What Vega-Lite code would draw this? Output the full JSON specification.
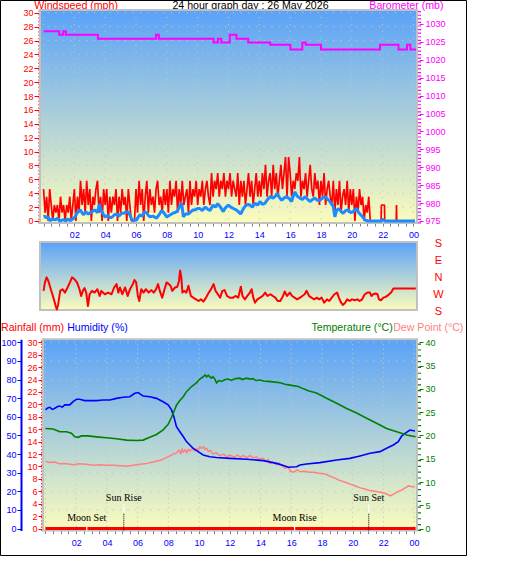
{
  "$schema": "https://vega.github.io/schema/vega-lite/v6.json",
  "width": 466,
  "height": 555,
  "autosize": {"type": "none"},
  "padding": {"left": 0, "top": 0, "right": 3, "bottom": 3},
  "background": "#ffffff",
  "config": {
    "view": {"stroke": "#000000", "strokeWidth": 1},
    "font": "Liberation Sans",
    "axis": {
      "grid": false,
      "labelFlush": false,
      "labelOverlap": false,
      "labelBound": false,
      "labelFont": "Liberation Sans",
      "labelFontSize": 9,
      "titleFont": "Liberation Sans",
      "titleFontSize": 10.6,
      "titleFontWeight": "normal",
      "titleAngle": 0,
      "titleBaseline": "alphabetic"
    }
  },
  "datasets": {
    "gridHours": [{"h":0},{"h":2},{"h":4},{"h":6},{"h":8},{"h":10},{"h":12},{"h":14},{"h":16},{"h":18},{"h":20},{"h":22},{"h":24}],
    "windGrid": [{"v":2},{"v":4},{"v":6},{"v":8},{"v":10},{"v":12},{"v":14},{"v":16},{"v":18},{"v":20},{"v":22},{"v":24},{"v":26},{"v":28},{"v":30}],
    "humGrid": [{"v":10},{"v":20},{"v":30},{"v":40},{"v":50},{"v":60},{"v":70},{"v":80},{"v":90},{"v":100}],
    "gust": [
      {"h":0.0,"mph":4.6},{"h":0.1,"mph":1.2},{"h":0.2,"mph":3.5},{"h":0.3,"mph":0},{"h":0.4,"mph":4.6},{"h":0.5,"mph":2.3},{"h":0.6,"mph":0},{"h":0.7,"mph":2.3},{"h":0.8,"mph":1.2},{"h":0.9,"mph":2.3},
      {"h":1.0,"mph":0},{"h":1.1,"mph":3.5},{"h":1.2,"mph":1.2},{"h":1.3,"mph":2.3},{"h":1.4,"mph":0},{"h":1.5,"mph":2.3},{"h":1.6,"mph":1.2},{"h":1.7,"mph":3.5},{"h":1.8,"mph":0},{"h":1.9,"mph":2.3},
      {"h":2.0,"mph":4.6},{"h":2.1,"mph":0},{"h":2.2,"mph":3.5},{"h":2.3,"mph":1.2},{"h":2.4,"mph":5.8},{"h":2.5,"mph":2.3},{"h":2.6,"mph":4.6},{"h":2.7,"mph":1.2},{"h":2.8,"mph":5.8},{"h":2.9,"mph":2.3},
      {"h":3.0,"mph":4.6},{"h":3.1,"mph":0},{"h":3.2,"mph":3.5},{"h":3.3,"mph":2.3},{"h":3.4,"mph":4.6},{"h":3.5,"mph":5.8},{"h":3.6,"mph":1.2},{"h":3.7,"mph":3.5},{"h":3.8,"mph":0},{"h":3.9,"mph":4.6},
      {"h":4.0,"mph":2.3},{"h":4.1,"mph":4.6},{"h":4.2,"mph":0},{"h":4.3,"mph":3.5},{"h":4.4,"mph":1.2},{"h":4.5,"mph":3.5},{"h":4.6,"mph":2.3},{"h":4.7,"mph":4.6},{"h":4.8,"mph":0},{"h":4.9,"mph":3.5},
      {"h":5.0,"mph":1.2},{"h":5.1,"mph":4.6},{"h":5.2,"mph":2.3},{"h":5.3,"mph":3.5},{"h":5.4,"mph":0},{"h":5.5,"mph":4.6},{"h":5.6,"mph":2.3},{"h":5.7,"mph":0},{"h":5.8,"mph":0},{"h":5.9,"mph":0},
      {"h":6.0,"mph":4.6},{"h":6.1,"mph":1.2},{"h":6.2,"mph":5.8},{"h":6.3,"mph":2.3},{"h":6.4,"mph":4.6},{"h":6.5,"mph":0},{"h":6.6,"mph":3.5},{"h":6.7,"mph":5.8},{"h":6.8,"mph":1.2},{"h":6.9,"mph":4.6},
      {"h":7.0,"mph":2.3},{"h":7.1,"mph":3.5},{"h":7.2,"mph":1.2},{"h":7.3,"mph":4.6},{"h":7.4,"mph":5.8},{"h":7.5,"mph":2.3},{"h":7.6,"mph":3.5},{"h":7.7,"mph":1.2},{"h":7.8,"mph":4.6},{"h":7.9,"mph":2.3},
      {"h":8.0,"mph":4.6},{"h":8.1,"mph":1.2},{"h":8.2,"mph":5.8},{"h":8.3,"mph":2.3},{"h":8.4,"mph":4.6},{"h":8.5,"mph":3.5},{"h":8.6,"mph":5.8},{"h":8.7,"mph":1.2},{"h":8.8,"mph":4.6},{"h":8.9,"mph":2.3},
      {"h":9.0,"mph":5.8},{"h":9.1,"mph":2.3},{"h":9.2,"mph":3.5},{"h":9.3,"mph":4.6},{"h":9.4,"mph":1.2},{"h":9.5,"mph":5.8},{"h":9.6,"mph":2.3},{"h":9.7,"mph":4.6},{"h":9.8,"mph":3.5},{"h":9.9,"mph":5.8},
      {"h":10.0,"mph":2.3},{"h":10.1,"mph":4.6},{"h":10.2,"mph":3.5},{"h":10.3,"mph":5.8},{"h":10.4,"mph":2.3},{"h":10.5,"mph":4.6},{"h":10.6,"mph":5.8},{"h":10.7,"mph":3.5},{"h":10.8,"mph":2.3},{"h":10.9,"mph":6.9},
      {"h":11.0,"mph":3.5},{"h":11.1,"mph":5.8},{"h":11.2,"mph":4.6},{"h":11.3,"mph":6.9},{"h":11.4,"mph":3.5},{"h":11.5,"mph":5.8},{"h":11.6,"mph":4.6},{"h":11.7,"mph":6.9},{"h":11.8,"mph":3.5},{"h":11.9,"mph":5.8},
      {"h":12.0,"mph":4.6},{"h":12.1,"mph":6.9},{"h":12.2,"mph":3.5},{"h":12.3,"mph":5.8},{"h":12.4,"mph":4.6},{"h":12.5,"mph":3.5},{"h":12.6,"mph":6.9},{"h":12.7,"mph":2.3},{"h":12.8,"mph":5.8},{"h":12.9,"mph":3.5},
      {"h":13.0,"mph":5.8},{"h":13.1,"mph":2.3},{"h":13.2,"mph":4.6},{"h":13.3,"mph":6.9},{"h":13.4,"mph":3.5},{"h":13.5,"mph":5.8},{"h":13.6,"mph":2.3},{"h":13.7,"mph":4.6},{"h":13.8,"mph":6.9},{"h":13.9,"mph":3.5},
      {"h":14.0,"mph":5.8},{"h":14.1,"mph":3.5},{"h":14.2,"mph":6.9},{"h":14.3,"mph":4.6},{"h":14.4,"mph":8.1},{"h":14.5,"mph":3.5},{"h":14.6,"mph":5.8},{"h":14.7,"mph":6.9},{"h":14.8,"mph":3.5},{"h":14.9,"mph":8.1},
      {"h":15.0,"mph":4.6},{"h":15.1,"mph":6.9},{"h":15.2,"mph":3.5},{"h":15.3,"mph":5.8},{"h":15.4,"mph":8.1},{"h":15.5,"mph":4.6},{"h":15.6,"mph":6.9},{"h":15.7,"mph":9.2},{"h":15.8,"mph":3.5},{"h":15.9,"mph":9.2},
      {"h":16.0,"mph":6.9},{"h":16.1,"mph":3.5},{"h":16.2,"mph":5.8},{"h":16.3,"mph":4.6},{"h":16.4,"mph":6.9},{"h":16.5,"mph":5.8},{"h":16.6,"mph":9.2},{"h":16.7,"mph":3.5},{"h":16.8,"mph":5.8},{"h":16.9,"mph":4.6},
      {"h":17.0,"mph":6.9},{"h":17.1,"mph":3.5},{"h":17.2,"mph":5.8},{"h":17.3,"mph":8.1},{"h":17.4,"mph":4.6},{"h":17.5,"mph":3.5},{"h":17.6,"mph":6.9},{"h":17.7,"mph":4.6},{"h":17.8,"mph":5.8},{"h":17.9,"mph":2.3},
      {"h":18.0,"mph":5.8},{"h":18.1,"mph":3.5},{"h":18.2,"mph":6.9},{"h":18.3,"mph":2.3},{"h":18.4,"mph":4.6},{"h":18.5,"mph":5.8},{"h":18.6,"mph":3.5},{"h":18.7,"mph":2.3},{"h":18.8,"mph":5.8},{"h":18.9,"mph":1.2},
      {"h":19.0,"mph":4.6},{"h":19.1,"mph":2.3},{"h":19.2,"mph":5.8},{"h":19.3,"mph":1.2},{"h":19.4,"mph":3.5},{"h":19.5,"mph":4.6},{"h":19.6,"mph":2.3},{"h":19.7,"mph":5.8},{"h":19.8,"mph":1.2},{"h":19.9,"mph":4.6},
      {"h":20.0,"mph":2.3},{"h":20.1,"mph":4.6},{"h":20.2,"mph":0},{"h":20.3,"mph":3.5},{"h":20.4,"mph":1.2},{"h":20.5,"mph":4.6},{"h":20.6,"mph":2.3},{"h":20.7,"mph":3.5},{"h":20.8,"mph":0},{"h":20.9,"mph":2.3},
      {"h":21.0,"mph":1.2},{"h":21.1,"mph":3.5},{"h":21.2,"mph":0},{"h":21.3,"mph":0},
      {"h":21.9,"mph":0},{"h":21.92,"mph":2.3},{"h":22.12,"mph":2.3},{"h":22.14,"mph":0},{"h":22.88,"mph":0},{"h":22.9,"mph":2.3},{"h":22.92,"mph":0},{"h":24.1,"mph":0}
    ],
    "avg": [
      {"h":0.0,"mph":0.6},{"h":0.1,"mph":0.7},{"h":0.2,"mph":0.4},{"h":0.3,"mph":0.6},{"h":0.42,"mph":0},{"h":0.55,"mph":0.3},{"h":0.75,"mph":0.15},{"h":0.9,"mph":0.4},{"h":1.05,"mph":0},{"h":1.29,"mph":0.2},
      {"h":1.45,"mph":0},{"h":1.6,"mph":0.3},{"h":1.72,"mph":0.05},{"h":1.9,"mph":0.3},{"h":2.05,"mph":0.6},{"h":2.15,"mph":1.1},{"h":2.37,"mph":1.6},{"h":2.5,"mph":1.2},{"h":2.58,"mph":0.9},{"h":2.75,"mph":1.3},
      {"h":2.9,"mph":1.0},{"h":3.02,"mph":1.2},{"h":3.2,"mph":1.4},{"h":3.34,"mph":1.6},{"h":3.5,"mph":1.2},{"h":3.62,"mph":2.45},{"h":3.7,"mph":1.8},{"h":3.77,"mph":1.35},{"h":3.9,"mph":0.9},{"h":3.99,"mph":0.6},
      {"h":4.15,"mph":0.8},{"h":4.3,"mph":0.5},{"h":4.42,"mph":0.5},{"h":4.6,"mph":0.9},{"h":4.75,"mph":1.0},{"h":4.9,"mph":0.7},{"h":5.05,"mph":1.1},{"h":5.18,"mph":1.1},{"h":5.35,"mph":1.3},{"h":5.5,"mph":1.3},
      {"h":5.62,"mph":0.8},{"h":5.72,"mph":0.2},{"h":5.85,"mph":0.1},{"h":6.04,"mph":0.15},{"h":6.15,"mph":0.6},{"h":6.26,"mph":0.9},{"h":6.4,"mph":0.7},{"h":6.55,"mph":1.3},{"h":6.69,"mph":1.2},{"h":6.8,"mph":0.8},
      {"h":6.91,"mph":0.6},{"h":7.1,"mph":0.7},{"h":7.34,"mph":0.4},{"h":7.5,"mph":0.9},{"h":7.66,"mph":1.5},{"h":7.8,"mph":1.2},{"h":7.99,"mph":0.6},{"h":8.15,"mph":0.8},{"h":8.31,"mph":1.0},{"h":8.45,"mph":1.2},
      {"h":8.53,"mph":1.2},{"h":8.7,"mph":1.5},{"h":8.85,"mph":2.2},{"h":8.96,"mph":2.6},{"h":9.07,"mph":0.6},{"h":9.2,"mph":1.0},{"h":9.39,"mph":1.0},{"h":9.55,"mph":1.3},{"h":9.7,"mph":1.6},{"h":9.83,"mph":1.6},
      {"h":10.0,"mph":1.8},{"h":10.15,"mph":1.8},{"h":10.3,"mph":1.5},{"h":10.5,"mph":2.0},{"h":10.65,"mph":1.7},{"h":10.8,"mph":1.5},{"h":11.0,"mph":2.3},{"h":11.15,"mph":2.0},{"h":11.3,"mph":2.5},{"h":11.45,"mph":2.1},
      {"h":11.66,"mph":1.35},{"h":11.8,"mph":1.9},{"h":11.99,"mph":2.3},{"h":12.15,"mph":2.0},{"h":12.31,"mph":1.8},{"h":12.5,"mph":1.6},{"h":12.64,"mph":1.35},{"h":12.79,"mph":1.0},{"h":12.95,"mph":1.7},{"h":13.07,"mph":2.1},
      {"h":13.25,"mph":2.4},{"h":13.39,"mph":2.3},{"h":13.55,"mph":2.0},{"h":13.72,"mph":2.55},{"h":13.9,"mph":2.3},{"h":14.04,"mph":2.8},{"h":14.2,"mph":2.4},{"h":14.36,"mph":2.55},{"h":14.5,"mph":3.0},{"h":14.69,"mph":3.5},
      {"h":14.9,"mph":3.3},{"h":15.05,"mph":3.6},{"h":15.16,"mph":4.0},{"h":15.3,"mph":3.4},{"h":15.45,"mph":3.0},{"h":15.6,"mph":3.3},{"h":15.77,"mph":3.5},{"h":15.95,"mph":3.2},{"h":16.09,"mph":2.8},{"h":16.2,"mph":3.6},
      {"h":16.31,"mph":4.2},{"h":16.45,"mph":3.6},{"h":16.63,"mph":3.3},{"h":16.8,"mph":3.1},{"h":16.96,"mph":3.5},{"h":17.1,"mph":3.2},{"h":17.28,"mph":2.8},{"h":17.45,"mph":3.1},{"h":17.61,"mph":3.3},{"h":17.75,"mph":3.0},
      {"h":17.93,"mph":3.0},{"h":18.1,"mph":3.3},{"h":18.26,"mph":3.5},{"h":18.45,"mph":3.1},{"h":18.58,"mph":2.8},{"h":18.7,"mph":2.4},{"h":18.8,"mph":2.1},{"h":18.9,"mph":0.6},{"h":19.0,"mph":1.4},{"h":19.12,"mph":1.8},
      {"h":19.3,"mph":1.4},{"h":19.44,"mph":1.1},{"h":19.6,"mph":1.5},{"h":19.77,"mph":1.6},{"h":19.93,"mph":1.2},{"h":20.09,"mph":1.35},{"h":20.2,"mph":1.6},{"h":20.31,"mph":1.8},{"h":20.42,"mph":1.3},{"h":20.53,"mph":1.0},
      {"h":20.7,"mph":0.6},{"h":20.85,"mph":0.15},{"h":21.07,"mph":0},{"h":21.9,"mph":0},{"h":22.04,"mph":0.25},{"h":22.15,"mph":0},{"h":24.1,"mph":0}
    ],
    "baro": [
      {"h":0,"mb":1028.0},{"h":1.01,"mb":1027.0},{"h":1.28,"mb":1028.0},{"h":1.45,"mb":1027.0},{"h":3.53,"mb":1025.9},{"h":7.3,"mb":1027.0},{"h":7.48,"mb":1025.9},{"h":11.03,"mb":1024.8},{"h":11.31,"mb":1025.9},{"h":11.53,"mb":1024.8},
      {"h":12.08,"mb":1027.0},{"h":12.52,"mb":1025.9},{"h":13.28,"mb":1024.8},{"h":14.71,"mb":1024.2},{"h":16.02,"mb":1022.9},{"h":16.79,"mb":1024.8},{"h":17.01,"mb":1024.2},{"h":18.0,"mb":1022.9},{"h":21.83,"mb":1024.2},{"h":23.03,"mb":1022.9},
      {"h":23.58,"mb":1024.2},{"h":23.8,"mb":1022.9},{"h":24.17,"mb":1022.9}
    ],
    "dir": [
      {"h":0.0,"deg":-73},{"h":0.09,"deg":-28},{"h":0.2,"deg":-1},{"h":0.31,"deg":-19},{"h":0.47,"deg":-64},{"h":0.64,"deg":-109},{"h":0.79,"deg":-154},{"h":0.86,"deg":-172},{"h":0.95,"deg":-145},{"h":1.08,"deg":-73},
      {"h":1.23,"deg":-64},{"h":1.39,"deg":-82},{"h":1.56,"deg":-55},{"h":1.71,"deg":-28},{"h":1.85,"deg":-1},{"h":2.0,"deg":-10},{"h":2.17,"deg":-28},{"h":2.33,"deg":-64},{"h":2.44,"deg":-100},{"h":2.55,"deg":-73},
      {"h":2.66,"deg":-58},{"h":2.77,"deg":-82},{"h":2.88,"deg":-154},{"h":2.99,"deg":-91},{"h":3.14,"deg":-73},{"h":3.31,"deg":-82},{"h":3.49,"deg":-64},{"h":3.64,"deg":-100},{"h":3.75,"deg":-73},{"h":3.97,"deg":-91},
      {"h":4.19,"deg":-82},{"h":4.41,"deg":-91},{"h":4.58,"deg":-55},{"h":4.74,"deg":-37},{"h":4.85,"deg":-82},{"h":4.96,"deg":-55},{"h":5.11,"deg":-91},{"h":5.29,"deg":-55},{"h":5.46,"deg":-100},{"h":5.61,"deg":-64},
      {"h":5.79,"deg":-37},{"h":5.9,"deg":-15},{"h":6.01,"deg":-28},{"h":6.12,"deg":-100},{"h":6.21,"deg":-127},{"h":6.34,"deg":-64},{"h":6.49,"deg":-82},{"h":6.64,"deg":-64},{"h":6.82,"deg":-82},{"h":6.99,"deg":-69},
      {"h":7.15,"deg":-82},{"h":7.3,"deg":-64},{"h":7.43,"deg":-37},{"h":7.54,"deg":-73},{"h":7.7,"deg":-109},{"h":7.85,"deg":-64},{"h":7.98,"deg":-28},{"h":8.13,"deg":-37},{"h":8.24,"deg":-46},{"h":8.35,"deg":-73},
      {"h":8.53,"deg":-55},{"h":8.68,"deg":-51},{"h":8.79,"deg":-19},{"h":8.86,"deg":35},{"h":8.94,"deg":-1},{"h":9.01,"deg":-82},{"h":9.12,"deg":-73},{"h":9.27,"deg":-82},{"h":9.4,"deg":-46},{"h":9.56,"deg":-100},
      {"h":9.71,"deg":-109},{"h":9.89,"deg":-118},{"h":10.06,"deg":-127},{"h":10.21,"deg":-118},{"h":10.37,"deg":-130},{"h":10.54,"deg":-109},{"h":10.72,"deg":-82},{"h":10.87,"deg":-64},{"h":11.03,"deg":-37},{"h":11.16,"deg":-73},
      {"h":11.31,"deg":-91},{"h":11.46,"deg":-109},{"h":11.6,"deg":-73},{"h":11.75,"deg":-69},{"h":11.9,"deg":-100},{"h":12.08,"deg":-109},{"h":12.3,"deg":-109},{"h":12.47,"deg":-100},{"h":12.63,"deg":-109},{"h":12.8,"deg":-51},
      {"h":12.91,"deg":-100},{"h":13.06,"deg":-118},{"h":13.22,"deg":-100},{"h":13.39,"deg":-82},{"h":13.5,"deg":-64},{"h":13.61,"deg":-109},{"h":13.72,"deg":-136},{"h":13.87,"deg":-118},{"h":14.05,"deg":-109},{"h":14.22,"deg":-100},
      {"h":14.38,"deg":-82},{"h":14.53,"deg":-100},{"h":14.71,"deg":-91},{"h":14.88,"deg":-100},{"h":15.04,"deg":-109},{"h":15.19,"deg":-127},{"h":15.36,"deg":-127},{"h":15.54,"deg":-100},{"h":15.65,"deg":-76},{"h":15.8,"deg":-100},
      {"h":15.98,"deg":-82},{"h":16.13,"deg":-100},{"h":16.29,"deg":-109},{"h":16.46,"deg":-118},{"h":16.64,"deg":-109},{"h":16.79,"deg":-100},{"h":16.94,"deg":-91},{"h":17.07,"deg":-73},{"h":17.23,"deg":-100},{"h":17.38,"deg":-109},
      {"h":17.56,"deg":-118},{"h":17.73,"deg":-109},{"h":17.88,"deg":-118},{"h":18.04,"deg":-109},{"h":18.21,"deg":-136},{"h":18.39,"deg":-118},{"h":18.54,"deg":-127},{"h":18.7,"deg":-109},{"h":18.87,"deg":-91},{"h":19.05,"deg":-82},
      {"h":19.16,"deg":-109},{"h":19.31,"deg":-136},{"h":19.42,"deg":-148},{"h":19.57,"deg":-136},{"h":19.7,"deg":-118},{"h":19.86,"deg":-127},{"h":20.01,"deg":-118},{"h":20.19,"deg":-123},{"h":20.36,"deg":-118},{"h":20.51,"deg":-127},
      {"h":20.67,"deg":-118},{"h":20.84,"deg":-91},{"h":21.02,"deg":-82},{"h":21.17,"deg":-82},{"h":21.28,"deg":-100},{"h":21.39,"deg":-91},{"h":21.54,"deg":-87},{"h":21.67,"deg":-91},{"h":21.76,"deg":-118},{"h":21.89,"deg":-123},
      {"h":22.05,"deg":-109},{"h":22.2,"deg":-105},{"h":22.38,"deg":-94},{"h":22.55,"deg":-82},{"h":22.7,"deg":-60},{"h":22.92,"deg":-60},{"h":24.15,"deg":-60}
    ],
    "rain": [{"h":0,"mm":0},{"h":24.1,"mm":0}],
    "humidity": [
      {"h":0.0,"pct":63.7},{"h":0.15,"pct":64.8},{"h":0.28,"pct":65.1},{"h":0.45,"pct":64.0},{"h":0.61,"pct":64.6},{"h":0.8,"pct":65.5},{"h":0.93,"pct":65.8},{"h":1.1,"pct":65.2},{"h":1.26,"pct":66.4},{"h":1.58,"pct":66.4},
      {"h":1.8,"pct":68.1},{"h":2.02,"pct":69.4},{"h":2.23,"pct":69.4},{"h":2.56,"pct":68.7},{"h":2.89,"pct":68.7},{"h":3.32,"pct":68.7},{"h":3.75,"pct":69.0},{"h":4.19,"pct":69.0},{"h":4.62,"pct":69.9},{"h":5.06,"pct":70.5},
      {"h":5.49,"pct":70.8},{"h":5.82,"pct":72.6},{"h":6.04,"pct":73.0},{"h":6.2,"pct":72.0},{"h":6.36,"pct":71.2},{"h":6.79,"pct":70.8},{"h":7.23,"pct":69.9},{"h":7.66,"pct":68.1},{"h":7.99,"pct":66.4},{"h":8.21,"pct":63.7},
      {"h":8.36,"pct":60.1},{"h":8.53,"pct":54.7},{"h":8.75,"pct":52.0},{"h":8.97,"pct":49.4},{"h":9.18,"pct":46.7},{"h":9.4,"pct":44.9},{"h":9.62,"pct":43.1},{"h":9.94,"pct":41.3},{"h":10.27,"pct":39.5},{"h":10.7,"pct":38.6},
      {"h":11.14,"pct":38.2},{"h":12.01,"pct":37.7},{"h":13.09,"pct":37.2},{"h":14.18,"pct":36.5},{"h":15.05,"pct":35.0},{"h":15.59,"pct":33.6},{"h":15.81,"pct":32.9},{"h":16.35,"pct":33.2},{"h":16.57,"pct":34.1},{"h":17.0,"pct":34.7},
      {"h":17.87,"pct":35.4},{"h":18.96,"pct":36.8},{"h":19.82,"pct":37.7},{"h":20.48,"pct":39.0},{"h":21.13,"pct":40.4},{"h":21.78,"pct":41.3},{"h":22.21,"pct":43.1},{"h":22.65,"pct":44.9},{"h":22.97,"pct":46.7},{"h":23.19,"pct":49.7},
      {"h":23.41,"pct":51.1},{"h":23.73,"pct":52.9},{"h":24.06,"pct":52.4}
    ],
    "temperature": [
      {"h":0.0,"c":21.5},{"h":0.5,"c":21.4},{"h":0.93,"c":20.8},{"h":1.37,"c":20.8},{"h":1.69,"c":20.5},{"h":1.91,"c":19.7},{"h":2.13,"c":19.6},{"h":2.34,"c":19.9},{"h":2.78,"c":19.9},{"h":3.32,"c":19.7},
      {"h":3.97,"c":19.5},{"h":4.62,"c":19.3},{"h":5.28,"c":19.0},{"h":5.93,"c":18.9},{"h":6.36,"c":19.0},{"h":6.79,"c":19.6},{"h":7.23,"c":20.2},{"h":7.66,"c":21.2},{"h":7.99,"c":22.4},{"h":8.21,"c":23.9},
      {"h":8.36,"c":25.1},{"h":8.53,"c":26.5},{"h":8.75,"c":27.5},{"h":8.97,"c":28.3},{"h":9.18,"c":29.4},{"h":9.51,"c":30.5},{"h":9.83,"c":31.3},{"h":10.05,"c":32.1},{"h":10.27,"c":32.6},{"h":10.4,"c":33.0},
      {"h":10.49,"c":32.6},{"h":10.6,"c":32.9},{"h":10.81,"c":32.3},{"h":10.9,"c":32.6},{"h":11.03,"c":32.1},{"h":11.14,"c":31.3},{"h":11.3,"c":31.8},{"h":11.46,"c":31.6},{"h":11.7,"c":32.0},{"h":11.9,"c":32.1},
      {"h":12.1,"c":31.8},{"h":12.22,"c":32.0},{"h":12.4,"c":32.2},{"h":12.66,"c":32.3},{"h":12.8,"c":32.0},{"h":13.09,"c":32.3},{"h":13.3,"c":32.1},{"h":13.5,"c":32.2},{"h":13.7,"c":31.8},{"h":13.96,"c":31.9},
      {"h":14.2,"c":31.7},{"h":14.5,"c":31.6},{"h":14.8,"c":31.5},{"h":15.27,"c":31.3},{"h":15.6,"c":31.0},{"h":15.92,"c":30.8},{"h":16.46,"c":30.5},{"h":16.8,"c":30.0},{"h":17.11,"c":29.6},{"h":17.65,"c":29.1},
      {"h":18.3,"c":28.0},{"h":18.96,"c":26.9},{"h":19.61,"c":25.8},{"h":20.26,"c":24.8},{"h":20.91,"c":23.7},{"h":21.56,"c":22.6},{"h":22.21,"c":21.5},{"h":22.87,"c":20.8},{"h":23.52,"c":20.1},{"h":24.1,"c":19.7}
    ],
    "dewpoint": [
      {"h":0.0,"c":14.4},{"h":0.3,"c":14.2},{"h":0.6,"c":14.3},{"h":0.93,"c":13.9},{"h":1.3,"c":14.0},{"h":1.8,"c":13.7},{"h":2.2,"c":13.9},{"h":2.67,"c":13.8},{"h":3.1,"c":13.6},{"h":3.54,"c":13.7},
      {"h":4.0,"c":13.6},{"h":4.41,"c":13.6},{"h":4.9,"c":13.5},{"h":5.28,"c":13.4},{"h":5.7,"c":13.6},{"h":6.14,"c":13.8},{"h":6.6,"c":14.0},{"h":7.01,"c":14.3},{"h":7.4,"c":14.6},{"h":7.66,"c":14.9},
      {"h":8.1,"c":15.6},{"h":8.3,"c":16.0},{"h":8.53,"c":16.2},{"h":8.7,"c":16.9},{"h":8.8,"c":16.0},{"h":8.9,"c":17.2},{"h":8.97,"c":16.3},{"h":9.1,"c":17.0},{"h":9.2,"c":16.2},{"h":9.3,"c":17.1},
      {"h":9.4,"c":16.6},{"h":9.6,"c":17.3},{"h":9.7,"c":16.6},{"h":9.83,"c":17.2},{"h":9.95,"c":16.7},{"h":10.05,"c":17.6},{"h":10.16,"c":17.2},{"h":10.3,"c":17.6},{"h":10.4,"c":16.9},{"h":10.49,"c":17.3},
      {"h":10.6,"c":16.5},{"h":10.75,"c":16.8},{"h":10.92,"c":16.0},{"h":11.1,"c":16.3},{"h":11.36,"c":15.6},{"h":11.6,"c":16.0},{"h":11.8,"c":15.4},{"h":12.01,"c":15.8},{"h":12.3,"c":15.3},{"h":12.5,"c":15.8},
      {"h":12.7,"c":15.3},{"h":12.88,"c":15.7},{"h":13.1,"c":15.2},{"h":13.31,"c":15.7},{"h":13.5,"c":15.2},{"h":13.74,"c":15.4},{"h":13.9,"c":14.9},{"h":14.18,"c":15.1},{"h":14.35,"c":14.4},{"h":14.5,"c":14.9},
      {"h":14.61,"c":13.9},{"h":14.8,"c":14.3},{"h":15.05,"c":13.7},{"h":15.2,"c":14.1},{"h":15.48,"c":13.3},{"h":15.62,"c":12.9},{"h":15.8,"c":13.3},{"h":15.95,"c":12.3},{"h":16.17,"c":12.1},{"h":16.4,"c":12.6},
      {"h":16.6,"c":12.2},{"h":16.83,"c":12.3},{"h":17.2,"c":12.1},{"h":17.49,"c":12.1},{"h":17.8,"c":11.9},{"h":18.15,"c":11.8},{"h":18.5,"c":11.3},{"h":18.81,"c":10.9},{"h":19.1,"c":10.4},{"h":19.47,"c":10.0},
      {"h":19.8,"c":9.6},{"h":20.13,"c":9.2},{"h":20.45,"c":8.8},{"h":20.79,"c":8.5},{"h":21.1,"c":8.2},{"h":21.45,"c":8.0},{"h":21.8,"c":7.8},{"h":22.11,"c":7.6},{"h":22.3,"c":7.3},{"h":22.44,"c":7.0},
      {"h":22.6,"c":7.3},{"h":22.77,"c":7.6},{"h":23.0,"c":8.0},{"h":23.21,"c":8.3},{"h":23.45,"c":8.8},{"h":23.65,"c":9.2},{"h":23.85,"c":9.0},{"h":24.05,"c":9.0}
    ],
    "events": [
      {"event":"Moon Set","h":2.69,"kind":"moon"},
      {"event":"Sun Rise","h":5.1,"kind":"sun"},
      {"event":"Moon Rise","h":16.22,"kind":"moon"},
      {"event":"Sun Set","h":21.05,"kind":"sun"}
    ]
  },
  "resolve": {"scale": {"x": "independent", "y": "independent"}},
  "layer": [
    {
      "data": {"values": [{}]},
      "mark": {"type": "rect", "stroke": "#c0c0c0", "strokeWidth": 2,
        "fill": {"gradient": "linear", "x1": 0, "y1": 0, "x2": 0, "y2": 1, "stops": [{"offset": 0, "color": "#5aa2f8"}, {"offset": 1, "color": "#fcfcbc"}]}},
      "encoding": {
        "x": {"datum": -0.23, "type": "quantitative",
          "scale": {"domain": [-0.23, 24.23], "range": [40, 417], "nice": false, "zero": false},
          "axis": {"orient": "bottom", "offset": -332, "tickCount": 48, "domain": false, "tickSize": 3, "tickColor": "#808080",
            "labelExpr": "datum.value % 2 == 0 && datum.value > 0 ? (datum.value % 24 < 10 ? '0' : '') + (datum.value % 24) : ''",
            "labelColor": "#0000ff", "labelPadding": 4,
            "title": "24 hour graph day : 26 May 2026", "titleX": 250, "titleY": -214.5, "titleAlign": "center", "titleColor": "#000000"}},
        "x2": {"datum": 24.23},
        "y": {"datum": 30.4, "type": "quantitative",
          "scale": {"domain": [-0.29, 30.4], "range": [223, 10], "nice": false, "zero": false},
          "axis": {"orient": "left", "offset": -39, "values": [0,2,4,6,8,10,12,14,16,18,20,22,24,26,28,30],
            "domainColor": "#ff0000", "domainWidth": 2, "domainDash": [1.7, 1.77], "tickColor": "#ff0000", "tickSize": 5,
            "labelColor": "#ff0000", "labelPadding": 1,
            "title": "Windspeed (mph)", "titleX": -5.2, "titleY": 8.5, "titleAlign": "left", "titleColor": "#ff0000"}},
        "y2": {"datum": -0.29}
      }
    },
    {
      "data": {"name": "gridHours"},
      "mark": {"type": "rule", "color": "#c4c4c4", "strokeWidth": 1, "strokeDash": [1.2, 5.74]},
      "encoding": {
        "x": {"field": "h", "type": "quantitative", "scale": {"domain": [-0.23, 24.23], "range": [40, 417], "nice": false, "zero": false}, "axis": null},
        "y": {"datum": 30.4, "type": "quantitative", "scale": {"domain": [-0.29, 30.4], "range": [223, 10], "nice": false, "zero": false}, "axis": null},
        "y2": {"datum": -0.29}
      }
    },
    {
      "data": {"name": "windGrid"},
      "mark": {"type": "rule", "color": "#c4c4c4", "strokeWidth": 1, "strokeDash": [1.2, 6.51]},
      "encoding": {
        "x": {"datum": -0.23, "type": "quantitative", "scale": {"domain": [-0.23, 24.23], "range": [40, 417], "nice": false, "zero": false}, "axis": null},
        "x2": {"datum": 24.23},
        "y": {"field": "v", "type": "quantitative", "scale": {"domain": [-0.29, 30.4], "range": [223, 10], "nice": false, "zero": false}, "axis": null}
      }
    },
    {
      "data": {"name": "gust"},
      "mark": {"type": "line", "color": "#ff0000", "strokeWidth": 1.7, "strokeJoin": "bevel"},
      "encoding": {
        "x": {"field": "h", "type": "quantitative", "scale": {"domain": [-0.23, 24.23], "range": [40, 417], "nice": false, "zero": false}, "axis": null},
        "y": {"field": "mph", "type": "quantitative", "scale": {"domain": [-0.29, 30.4], "range": [223, 10], "nice": false, "zero": false}, "axis": null}
      }
    },
    {
      "data": {"name": "avg"},
      "mark": {"type": "line", "color": "#1a8cff", "strokeWidth": 3, "strokeJoin": "bevel"},
      "encoding": {
        "x": {"field": "h", "type": "quantitative", "scale": {"domain": [-0.23, 24.23], "range": [40, 417], "nice": false, "zero": false}, "axis": null},
        "y": {"field": "mph", "type": "quantitative", "scale": {"domain": [-0.29, 30.4], "range": [223, 10], "nice": false, "zero": false}, "axis": null}
      }
    },
    {
      "data": {"name": "baro"},
      "mark": {"type": "line", "color": "#ff00ff", "strokeWidth": 2, "interpolate": "step-after"},
      "encoding": {
        "x": {"field": "h", "type": "quantitative", "scale": {"domain": [-0.23, 24.23], "range": [40, 417], "nice": false, "zero": false}, "axis": null},
        "y": {"field": "mb", "type": "quantitative",
          "scale": {"domain": [974.44, 1033.9], "range": [223, 10], "nice": false, "zero": false},
          "axis": {"orient": "right", "offset": -47, "values": [975,980,985,990,995,1000,1005,1010,1015,1020,1025,1030], "format": "d",
            "domainColor": "#ff00ff", "domainWidth": 3, "domainDash": [1.2, 2.38], "tickColor": "#ff00ff", "tickSize": 4,
            "labelColor": "#ff00ff", "labelPadding": 2,
            "title": "Barometer (mb)", "titleX": 24, "titleY": 8.5, "titleAlign": "right", "titleColor": "#ff00ff"}}
      }
    },
    {
      "data": {"values": [{}]},
      "mark": {"type": "rect", "stroke": "#c0c0c0", "strokeWidth": 2,
        "fill": {"gradient": "linear", "x1": 0, "y1": 0, "x2": 0, "y2": 1, "stops": [{"offset": 0, "color": "#5aa2f8"}, {"offset": 1, "color": "#fcfcbc"}]}},
      "encoding": {
        "x": {"datum": -0.23, "type": "quantitative", "scale": {"domain": [-0.23, 24.23], "range": [40, 417], "nice": false, "zero": false}, "axis": null},
        "x2": {"datum": 24.23},
        "y": {"datum": 186.9, "type": "quantitative",
          "scale": {"domain": [-180, 186.9], "range": [311, 242], "nice": false, "zero": false},
          "axis": {"orient": "right", "offset": -49, "values": [180, 90, 0, -90, -180], "domain": false, "ticks": false, "tickSize": 0,
            "labelPadding": 21, "labelAlign": "center", "labelBaseline": "middle", "labelColor": "#ff0000", "labelFontSize": 11,
            "labelExpr": "datum.value == 0 ? 'N' : datum.value == 90 ? 'E' : datum.value == -90 ? 'W' : 'S'", "title": null}},
        "y2": {"datum": -174.7}
      }
    },
    {
      "data": {"name": "dir"},
      "mark": {"type": "line", "color": "#ff0000", "strokeWidth": 2, "strokeJoin": "round"},
      "encoding": {
        "x": {"field": "h", "type": "quantitative", "scale": {"domain": [-0.23, 24.23], "range": [40, 417], "nice": false, "zero": false}, "axis": null},
        "y": {"field": "deg", "type": "quantitative", "scale": {"domain": [-180, 186.9], "range": [311, 242], "nice": false, "zero": false}, "axis": null}
      }
    },
    {
      "data": {"values": [{}]},
      "mark": {"type": "rect", "stroke": "#c0c0c0", "strokeWidth": 2,
        "fill": {"gradient": "linear", "x1": 0, "y1": 0, "x2": 0, "y2": 1, "stops": [{"offset": 0, "color": "#5aa2f8"}, {"offset": 1, "color": "#fcfcbc"}]}},
      "encoding": {
        "x": {"datum": -0.16, "type": "quantitative",
          "scale": {"domain": [-0.16, 24.19], "range": [43, 417], "nice": false, "zero": false},
          "axis": {"orient": "bottom", "offset": -24.5, "tickCount": 48, "domain": false, "tickSize": 3, "tickColor": "#808080",
            "labelExpr": "datum.value % 2 == 0 && datum.value > 0 ? (datum.value % 24 < 10 ? '0' : '') + (datum.value % 24) : ''",
            "labelColor": "#0000ff", "labelPadding": 5,
            "title": "Dew Point (°C)", "titleX": 392.7, "titleY": -200, "titleAlign": "left", "titleColor": "#ff8080"}},
        "x2": {"datum": 24.19},
        "y": {"datum": 30.48, "type": "quantitative",
          "scale": {"domain": [-0.306, 30.48], "range": [530.5, 339.3], "nice": false, "zero": false},
          "axis": {"orient": "left", "offset": -41.5, "values": [0,2,4,6,8,10,12,14,16,18,20,22,24,26,28,30],
            "domainColor": "#ff0000", "domainWidth": 1.5, "domainDash": [1.5, 1.6], "tickColor": "#ff0000", "tickSize": 3.5,
            "labelColor": "#ff0000", "labelPadding": 1,
            "title": "Rainfall (mm)", "titleX": -41, "titleY": 330.5, "titleAlign": "left", "titleColor": "#ff0000"}},
        "y2": {"datum": -0.306}
      }
    },
    {
      "data": {"name": "gridHours"},
      "mark": {"type": "rule", "color": "#c4c4c4", "strokeWidth": 1, "strokeDash": [1.2, 3.46]},
      "encoding": {
        "x": {"field": "h", "type": "quantitative", "scale": {"domain": [-0.16, 24.19], "range": [43, 417], "nice": false, "zero": false}, "axis": null},
        "y": {"datum": 101.6, "type": "quantitative", "scale": {"domain": [-1.02, 101.6], "range": [530.5, 339.3], "nice": false, "zero": false}, "axis": null},
        "y2": {"datum": -1.02}
      }
    },
    {
      "data": {"name": "humGrid"},
      "mark": {"type": "rule", "color": "#c4c4c4", "strokeWidth": 1, "strokeDash": [1.2, 6.48]},
      "encoding": {
        "x": {"datum": -0.16, "type": "quantitative", "scale": {"domain": [-0.16, 24.19], "range": [43, 417], "nice": false, "zero": false}, "axis": null},
        "x2": {"datum": 24.19},
        "y": {"field": "v", "type": "quantitative", "scale": {"domain": [-1.02, 101.6], "range": [530.5, 339.3], "nice": false, "zero": false}, "axis": null}
      }
    },
    {
      "data": {"name": "rain"},
      "mark": {"type": "line", "color": "#ff0000", "strokeWidth": 3},
      "encoding": {
        "x": {"field": "h", "type": "quantitative", "scale": {"domain": [-0.16, 24.19], "range": [43, 417], "nice": false, "zero": false}, "axis": null},
        "y": {"field": "mm", "type": "quantitative", "scale": {"domain": [-0.306, 30.48], "range": [530.5, 339.3], "nice": false, "zero": false}, "axis": null}
      }
    },
    {
      "data": {"name": "dewpoint"},
      "mark": {"type": "line", "color": "#ff8080", "strokeWidth": 1.5, "strokeJoin": "bevel"},
      "encoding": {
        "x": {"field": "h", "type": "quantitative", "scale": {"domain": [-0.16, 24.19], "range": [43, 417], "nice": false, "zero": false}, "axis": null},
        "y": {"field": "c", "type": "quantitative", "scale": {"domain": [-0.408, 40.64], "range": [530.5, 339.3], "nice": false, "zero": false}, "axis": null}
      }
    },
    {
      "data": {"name": "humidity"},
      "mark": {"type": "line", "color": "#0000ff", "strokeWidth": 1.6},
      "encoding": {
        "x": {"field": "h", "type": "quantitative", "scale": {"domain": [-0.16, 24.19], "range": [43, 417], "nice": false, "zero": false}, "axis": null},
        "y": {"field": "pct", "type": "quantitative",
          "scale": {"domain": [-1.02, 101.6], "range": [530.5, 339.3], "nice": false, "zero": false},
          "axis": {"orient": "left", "offset": -21, "values": [0,10,20,30,40,50,60,70,80,90,100],
            "domainColor": "#0000ff", "domainWidth": 2, "tickColor": "#0000ff", "tickSize": 4,
            "labelColor": "#0000ff", "labelPadding": 1,
            "title": "Humidity (%)", "titleX": 45.7, "titleY": 330.5, "titleAlign": "left", "titleColor": "#0000ff"}}
      }
    },
    {
      "data": {"name": "temperature"},
      "mark": {"type": "line", "color": "#008000", "strokeWidth": 1.6},
      "encoding": {
        "x": {"field": "h", "type": "quantitative", "scale": {"domain": [-0.16, 24.19], "range": [43, 417], "nice": false, "zero": false}, "axis": null},
        "y": {"field": "c", "type": "quantitative",
          "scale": {"domain": [-0.408, 40.64], "range": [530.5, 339.3], "nice": false, "zero": false},
          "axis": {"orient": "right", "offset": -47, "values": [0,5,10,15,20,25,30,35,40],
            "domainColor": "#008000", "domainWidth": 3, "domainDash": [1.2, 4.62], "tickColor": "#008000", "tickSize": 4,
            "labelColor": "#008000", "labelPadding": 2,
            "title": "Temperature (°C)", "titleX": -26.7, "titleY": 330.5, "titleAlign": "right", "titleColor": "#008000"}}
      }
    },
    {
      "data": {"name": "events"},
      "transform": [{"filter": "datum.kind == 'sun'"}],
      "mark": {"type": "rule", "color": "#ffffff", "strokeWidth": 1},
      "encoding": {
        "x": {"field": "h", "type": "quantitative", "scale": {"domain": [-0.16, 24.19], "range": [43, 417], "nice": false, "zero": false}, "axis": null},
        "y": {"datum": 3.93, "type": "quantitative", "scale": {"domain": [-0.306, 30.48], "range": [530.5, 339.3], "nice": false, "zero": false}, "axis": null},
        "y2": {"datum": 2.55}
      }
    },
    {
      "data": {"name": "events"},
      "transform": [{"filter": "datum.kind == 'sun'"}],
      "mark": {"type": "rule", "color": "#000000", "strokeWidth": 1, "strokeDash": [1, 1]},
      "encoding": {
        "x": {"field": "h", "type": "quantitative", "scale": {"domain": [-0.16, 24.19], "range": [43, 417], "nice": false, "zero": false}, "axis": null},
        "y": {"datum": 2.4, "type": "quantitative", "scale": {"domain": [-0.306, 30.48], "range": [530.5, 339.3], "nice": false, "zero": false}, "axis": null},
        "y2": {"datum": -0.3}
      }
    },
    {
      "data": {"name": "events"},
      "transform": [{"filter": "datum.kind == 'moon'"}],
      "mark": {"type": "rule", "color": "#ffffff", "strokeWidth": 1.2},
      "encoding": {
        "x": {"field": "h", "type": "quantitative", "scale": {"domain": [-0.16, 24.19], "range": [43, 417], "nice": false, "zero": false}, "axis": null},
        "y": {"datum": 0.45, "type": "quantitative", "scale": {"domain": [-0.306, 30.48], "range": [530.5, 339.3], "nice": false, "zero": false}, "axis": null},
        "y2": {"datum": -0.3}
      }
    },
    {
      "data": {"name": "events"},
      "transform": [{"filter": "datum.kind == 'sun'"}],
      "mark": {"type": "text", "font": "Liberation Serif", "fontSize": 10, "color": "#000000", "align": "center", "baseline": "middle"},
      "encoding": {
        "x": {"field": "h", "type": "quantitative", "scale": {"domain": [-0.16, 24.19], "range": [43, 417], "nice": false, "zero": false}, "axis": null},
        "y": {"datum": 4.93, "type": "quantitative", "scale": {"domain": [-0.306, 30.48], "range": [530.5, 339.3], "nice": false, "zero": false}, "axis": null},
        "text": {"field": "event"}
      }
    },
    {
      "data": {"name": "events"},
      "transform": [{"filter": "datum.kind == 'moon'"}],
      "mark": {"type": "text", "font": "Liberation Serif", "fontSize": 10, "color": "#000000", "align": "center", "baseline": "middle"},
      "encoding": {
        "x": {"field": "h", "type": "quantitative", "scale": {"domain": [-0.16, 24.19], "range": [43, 417], "nice": false, "zero": false}, "axis": null},
        "y": {"datum": 1.76, "type": "quantitative", "scale": {"domain": [-0.306, 30.48], "range": [530.5, 339.3], "nice": false, "zero": false}, "axis": null},
        "text": {"field": "event"}
      }
    }
  ]
}
